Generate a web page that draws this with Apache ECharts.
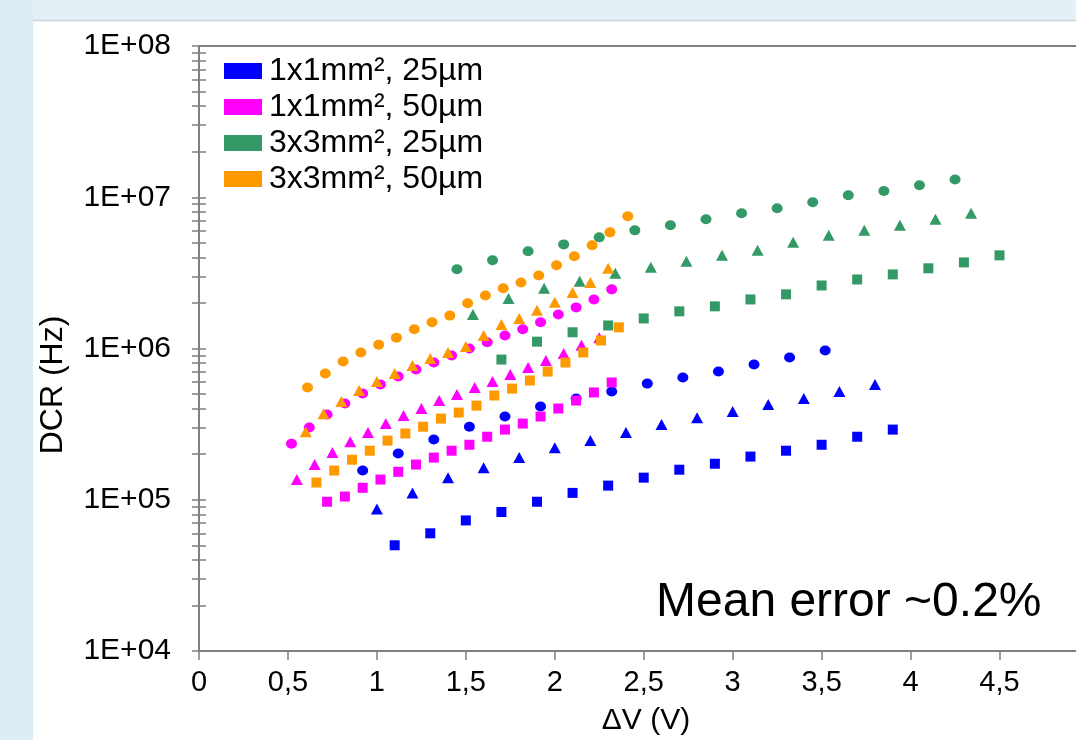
<!DOCTYPE html>
<html>
<head>
<meta charset="utf-8">
<script src="https://cdn.jsdelivr.net/npm/echarts@6/dist/echarts.min.js"></script>
<style>
  html, body { margin: 0; padding: 0; background: #ffffff; }
  #chart { width: 1076px; height: 740px; }
</style>
</head>
<body>
<div id="chart"></div>
<script>
// ---- Data ----
const groupNames = ['1x1mm², 25µm', '1x1mm², 50µm', '3x3mm², 25µm', '3x3mm², 50µm'];
const groupColors = ['#0000ff', '#ff00ff', '#339966', '#ff9900'];

const xTickValues = [0, 0.5, 1, 1.5, 2, 2.5, 3, 3.5, 4, 4.5];
const yLabelValues = [1e4, 1e5, 1e6, 1e7, 1e8];

// 1x1mm², 25µm
const blueCircleX = [0.92, 1.12, 1.32, 1.52, 1.72, 1.92, 2.12, 2.32, 2.52, 2.72, 2.92, 3.12, 3.32, 3.52];
const blueCircleY = [1.56e5, 2.02e5, 2.50e5, 3.04e5, 3.55e5, 4.13e5, 4.67e5, 5.19e5, 5.86e5, 6.43e5, 7.04e5, 7.83e5, 8.71e5, 9.70e5];
const blueTriX = [1.0, 1.2, 1.4, 1.6, 1.8, 2.0, 2.2, 2.4, 2.6, 2.8, 3.0, 3.2, 3.4, 3.6, 3.8];
const blueTriY = [8.7e4, 1.11e5, 1.40e5, 1.63e5, 1.90e5, 2.21e5, 2.46e5, 2.78e5, 3.14e5, 3.49e5, 3.83e5, 4.26e5, 4.67e5, 5.19e5, 5.78e5];
const blueSqX = [1.1, 1.3, 1.5, 1.7, 1.9, 2.1, 2.3, 2.5, 2.7, 2.9, 3.1, 3.3, 3.5, 3.7, 3.9];
const blueSqY = [5.0e4, 6.0e4, 7.3e4, 8.3e4, 9.7e4, 1.11e5, 1.24e5, 1.40e5, 1.58e5, 1.73e5, 1.93e5, 2.11e5, 2.31e5, 2.61e5, 2.91e5];

// 1x1mm², 50µm
const magCircleX = [0.52, 0.62, 0.72, 0.82, 0.92, 1.02, 1.12, 1.22, 1.32, 1.42, 1.52, 1.62, 1.72, 1.82, 1.92, 2.02, 2.12, 2.22, 2.32];
const magCircleY = [2.35e5, 3.00e5, 3.66e5, 4.33e5, 5.04e5, 5.78e5, 6.53e5, 7.26e5, 8.08e5, 8.99e5, 1.0e6, 1.10e6, 1.22e6, 1.34e6, 1.49e6, 1.68e6, 1.87e6, 2.11e6, 2.46e6];
const magTriX = [0.55, 0.65, 0.75, 0.85, 0.95, 1.05, 1.15, 1.25, 1.35, 1.45, 1.55, 1.65, 1.75, 1.85, 1.95, 2.05, 2.15, 2.25];
const magTriY = [1.36e5, 1.71e5, 2.05e5, 2.42e5, 2.78e5, 3.19e5, 3.60e5, 4.01e5, 4.53e5, 4.96e5, 5.52e5, 6.04e5, 6.73e5, 7.48e5, 8.34e5, 9.27e5, 1.05e6, 1.18e6];
const magSqX = [0.72, 0.82, 0.92, 1.02, 1.12, 1.22, 1.32, 1.42, 1.52, 1.62, 1.72, 1.82, 1.92, 2.02, 2.12, 2.22, 2.32];
const magSqY = [9.7e4, 1.05e5, 1.20e5, 1.36e5, 1.53e5, 1.71e5, 1.90e5, 2.11e5, 2.31e5, 2.61e5, 2.91e5, 3.19e5, 3.55e5, 4.01e5, 4.53e5, 5.12e5, 5.96e5];

// 3x3mm², 25µm
const greenCircleX = [1.45, 1.65, 1.85, 2.05, 2.25, 2.45, 2.65, 2.85, 3.05, 3.25, 3.45, 3.65, 3.85, 4.05, 4.25];
const greenCircleY = [3.34e6, 3.83e6, 4.39e6, 4.88e6, 5.43e6, 6.04e6, 6.53e6, 7.15e6, 7.83e6, 8.46e6, 9.27e6, 1.03e7, 1.10e7, 1.20e7, 1.31e7];
const greenTriX = [1.54, 1.74, 1.94, 2.14, 2.34, 2.54, 2.74, 2.94, 3.14, 3.34, 3.54, 3.74, 3.94, 4.14, 4.34];
const greenTriY = [1.68e6, 2.14e6, 2.50e6, 2.78e6, 3.14e6, 3.44e6, 3.77e6, 4.13e6, 4.46e6, 5.04e6, 5.60e6, 6.04e6, 6.53e6, 7.15e6, 7.83e6];
const greenSqX = [1.7, 1.9, 2.1, 2.3, 2.5, 2.7, 2.9, 3.1, 3.3, 3.5, 3.7, 3.9, 4.1, 4.3, 4.5];
const greenSqY = [8.45e5, 1.11e6, 1.28e6, 1.42e6, 1.58e6, 1.76e6, 1.90e6, 2.11e6, 2.28e6, 2.61e6, 2.86e6, 3.09e6, 3.39e6, 3.71e6, 4.13e6];

// 3x3mm², 50µm
const orangeCircleX = [0.61, 0.71, 0.81, 0.91, 1.01, 1.11, 1.21, 1.31, 1.41, 1.51, 1.61, 1.71, 1.81, 1.91, 2.01, 2.11, 2.21, 2.31, 2.41];
const orangeCircleY = [5.52e5, 6.83e5, 8.20e5, 9.41e5, 1.06e6, 1.18e6, 1.34e6, 1.49e6, 1.65e6, 1.99e6, 2.24e6, 2.50e6, 2.73e6, 3.04e6, 3.55e6, 4.07e6, 4.81e6, 5.86e6, 7.48e6];
const orangeTriX = [0.6, 0.7, 0.8, 0.9, 1.0, 1.1, 1.2, 1.3, 1.4, 1.5, 1.6, 1.7, 1.8, 1.9, 2.0, 2.1, 2.2, 2.3];
const orangeTriY = [2.82e5, 3.71e5, 4.46e5, 5.27e5, 6.04e5, 6.83e5, 7.71e5, 8.58e5, 9.41e5, 1.03e6, 1.22e6, 1.44e6, 1.58e6, 1.79e6, 2.02e6, 2.35e6, 2.73e6, 3.39e6];
const orangeSqX = [0.66, 0.76, 0.86, 0.96, 1.06, 1.16, 1.26, 1.36, 1.46, 1.56, 1.66, 1.76, 1.86, 1.96, 2.06, 2.16, 2.26, 2.36];
const orangeSqY = [1.30e5, 1.56e5, 1.84e5, 2.11e5, 2.46e5, 2.74e5, 3.04e5, 3.44e5, 3.77e5, 4.19e5, 4.89e5, 5.43e5, 6.14e5, 7.04e5, 8.08e5, 9.41e5, 1.13e6, 1.38e6];

// ---- Build chart ----
const FONT = '"Liberation Sans", Arial, Helvetica, sans-serif';
const AXIS_GRAY = '#808080';

function pairs(xs, ys) { return xs.map((x, i) => [x, ys[i]]); }

// y ticks at 1..9 x each decade
const yTickValues = [];
for (let e = 4; e < 8; e++) {
  for (let m = 1; m <= 9; m++) yTickValues.push(m * Math.pow(10, e));
}
yTickValues.push(1e8);

const seriesDefs = [
  [0, 'circle', blueCircleX, blueCircleY],
  [0, 'triangle', blueTriX, blueTriY],
  [0, 'rect', blueSqX, blueSqY],
  [1, 'circle', magCircleX, magCircleY],
  [1, 'triangle', magTriX, magTriY],
  [1, 'rect', magSqX, magSqY],
  [2, 'circle', greenCircleX, greenCircleY],
  [2, 'triangle', greenTriX, greenTriY],
  [2, 'rect', greenSqX, greenSqY],
  [3, 'circle', orangeCircleX, orangeCircleY],
  [3, 'triangle', orangeTriX, orangeTriY],
  [3, 'rect', orangeSqX, orangeSqY]
];
const symbolSizes = { circle: [11, 10], triangle: [12, 11], rect: [10, 10] };

const series = seriesDefs.map(([g, sym, xs, ys]) => ({
  name: groupNames[g],
  type: 'scatter',
  xAxisIndex: 0,
  yAxisIndex: 0,
  symbol: sym,
  symbolSize: symbolSizes[sym],
  itemStyle: { color: groupColors[g], opacity: 1 },
  emphasis: { disabled: true },
  data: pairs(xs, ys)
}));

const chart = echarts.init(document.getElementById('chart'), null, { renderer: 'canvas' });

const option = {
  backgroundColor: '#ffffff',
  animation: false,
  textStyle: { fontFamily: FONT },
  grid: { left: 199, right: 0, top: 46, bottom: 89, containLabel: false },
  legend: {
    data: groupNames.map((n) => ({ name: n, icon: 'rect' })),
    orient: 'vertical',
    left: 224,
    top: 55,
    itemWidth: 38,
    itemHeight: 16,
    itemGap: 4,
    padding: 0,
    selectedMode: false,
    textStyle: { fontSize: 32, color: '#000000', fontFamily: FONT, lineHeight: 32, padding: [0, 0, 0, 2] }
  },
  xAxis: [
    {
      type: 'value',
      min: 0,
      max: 4.93,
      position: 'bottom',
      axisLine: { show: true, onZero: false, lineStyle: { color: AXIS_GRAY, width: 2 } },
      axisTick: { show: true, length: 9, customValues: xTickValues, lineStyle: { color: AXIS_GRAY, width: 1.5 } },
      axisLabel: {
        customValues: xTickValues,
        formatter: (v) => String(v).replace('.', ','),
        fontSize: 29,
        color: '#000000',
        margin: 17,
        fontFamily: FONT
      },
      splitLine: { show: false }
    },
    {
      type: 'value',
      min: 0,
      max: 4.93,
      position: 'top',
      axisLine: { show: true, onZero: false, lineStyle: { color: AXIS_GRAY, width: 2 } },
      axisTick: { show: false },
      axisLabel: { show: false },
      splitLine: { show: false }
    }
  ],
  yAxis: [
    {
      type: 'log',
      logBase: 10,
      min: 1e4,
      max: 1e8,
      position: 'left',
      axisLine: { show: true, onZero: false, lineStyle: { color: AXIS_GRAY, width: 2 } },
      axisTick: { show: true, inside: false, length: 7, customValues: yTickValues, lineStyle: { color: AXIS_GRAY, width: 1.5 } },
      axisLabel: {
        customValues: yLabelValues,
        formatter: (v) => '1E+' + String(Math.round(Math.log10(v))).padStart(2, '0'),
        fontSize: 30,
        color: '#000000',
        margin: 28,
        fontFamily: FONT
      },
      splitLine: { show: false },
      minorSplitLine: { show: false }
    },
    {
      type: 'log',
      logBase: 10,
      min: 1e4,
      max: 1e8,
      position: 'left',
      axisLine: { show: false },
      axisTick: { show: true, inside: true, length: 7, customValues: yTickValues, lineStyle: { color: AXIS_GRAY, width: 1.5 } },
      axisLabel: { show: false },
      splitLine: { show: false }
    }
  ],
  graphic: [
    { type: 'rect', shape: { x: 0, y: 0, width: 1076, height: 20 }, style: { fill: '#e4f0f6' }, silent: true, z: -1 },
    { type: 'rect', shape: { x: 0, y: 0, width: 33, height: 740 }, style: { fill: '#ddedf5' }, silent: true, z: -1 },
    { type: 'line', shape: { x1: 33, y1: 20.5, x2: 1076, y2: 20.5 }, style: { stroke: '#c5d3da', lineWidth: 1.5 }, silent: true, z: -1 },
    {
      type: 'text',
      x: 53, y: 385,
      rotation: Math.PI / 2,
      style: { text: 'DCR (Hz)', font: '32px ' + FONT, fill: '#000000', align: 'center', verticalAlign: 'middle' },
      silent: true
    },
    {
      type: 'text',
      x: 646, y: 721,
      style: { text: 'ΔV (V)', font: '30px ' + FONT, fill: '#000000', align: 'center', verticalAlign: 'middle' },
      silent: true
    },
    {
      type: 'text',
      x: 656, y: 603,
      style: { text: 'Mean error ~0.2%', font: '48px ' + FONT, fill: '#000000', align: 'left', verticalAlign: 'middle' },
      silent: true
    }
  ],
  series: series
};

chart.setOption(option);
</script>
</body>
</html>
